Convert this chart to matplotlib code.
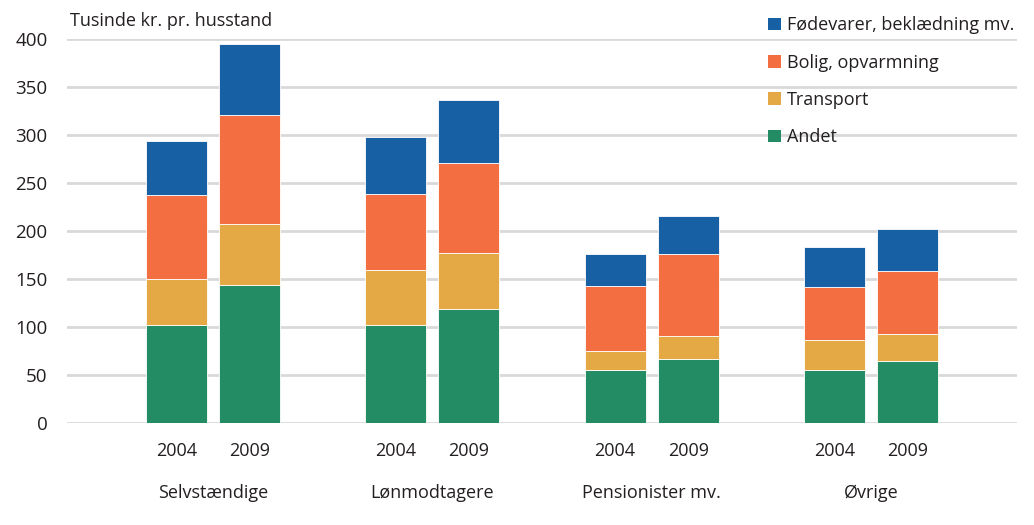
import numpy as np
import matplotlib
matplotlib.use('Agg')
import matplotlib.pyplot as plt
from matplotlib.patches import Patch
from matplotlib.transforms import blended_transform_factory

plt.rcParams['font.family'] = ['Open Sans', 'DejaVu Sans']

# Data (tusinde kr. pr. husstand), order: Selvst. 04/09, Lønm. 04/09, Pens. 04/09, Øvrige 04/09
groups = ['Selvstændige', 'Lønmodtagere', 'Pensionister mv.', 'Øvrige']
years = ['2004', '2009']
andet = [102, 144, 102, 119, 55, 67, 55, 64]
transport = [48, 63, 57, 58, 20, 23, 31, 29]
bolig = [87, 113, 79, 93, 68, 86, 56, 65]
foedevarer = [56, 74, 60, 66, 33, 39, 41, 44]

series = [
    ('Andet', andet, '#238C65'),
    ('Transport', transport, '#E4A944'),
    ('Bolig, opvarmning', bolig, '#F36F42'),
    ('Fødevarer, beklædning mv.', foedevarer, '#1860A4'),
]

# category slots: blank, 04, 09, blank, 04, 09, ...
xpos = np.array([1, 2, 4, 5, 7, 8, 10, 11])

fig = plt.figure(figsize=(10.34, 5.25), dpi=100)
ax = fig.add_axes([67 / 1034, 102 / 525, 950 / 1034, 384.5 / 525])

bottom = np.zeros(len(xpos))
for name, vals, col in series:
    ax.bar(xpos, vals, width=0.836, bottom=bottom, color=col,
           edgecolor='white', linewidth=0.6, zorder=3)
    bottom += np.array(vals)

ax.set_xlim(-0.5, 12.5)
ax.set_ylim(0, 400)
ax.set_yticks(np.arange(0, 401, 50))
ax.yaxis.grid(True, color='#D9D9D9', linewidth=2, zorder=0)
ax.set_axisbelow(True)
for s in ax.spines.values():
    s.set_visible(False)
ax.tick_params(axis='y', length=0, labelsize=13.5, pad=14, colors='#231F20')
ax.set_xticks(xpos)
ax.set_xticklabels(years * 4)
ax.tick_params(axis='x', length=0, labelsize=13, pad=14, colors='#231F20')

trans = blended_transform_factory(ax.transData, fig.transFigure)
for i, g in enumerate(groups):
    ax.text(xpos[2 * i] + 0.5, 1 - 493 / 525, g, transform=trans,
            ha='center', va='center', fontsize=13, color='#231F20')

fig.text(70 / 1034, 1 - 21 / 525, 'Tusinde kr. pr. husstand',
         ha='left', va='center', fontsize=13, color='#231F20')

handles = [Patch(facecolor=c, edgecolor='none', label=n) for n, _, c in series[::-1]]
fig.legend(handles=handles, loc='upper left',
           bbox_to_anchor=(752 / 1034, 1 - 0 / 525),
           frameon=False, fontsize=13, handlelength=0.7, handleheight=0.7,
           handletextpad=0.35, labelspacing=1.07, labelcolor='#231F20')

fig.savefig('out.png', dpi=100, facecolor='white')
